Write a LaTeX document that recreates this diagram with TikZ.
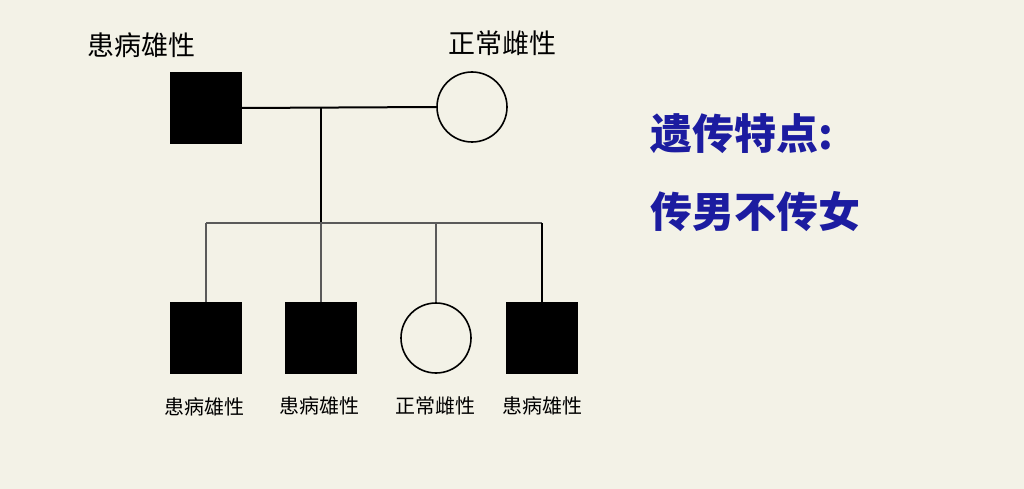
\documentclass[tikz,border=0pt]{standalone}
\usepackage{fontspec}
\newfontfamily\cjk{Noto Sans CJK SC}
\usepackage{tikz}
\usetikzlibrary{positioning}
\definecolor{paper}{RGB}{243,242,231}
\definecolor{lineg}{RGB}{90,90,90}
\definecolor{tipblue}{RGB}{28,28,160}
\tikzset{
	male/.style={shape=rectangle, fill=black, draw=black, minimum size=71pt, inner sep=0pt},
	female/.style={shape=circle, draw=black, line width=1.6pt, fill=paper, minimum size=70pt, inner sep=0pt},
	kin/.style={line width=1.6pt, draw=lineg},
	tag/.style={font=\cjk\fontsize{20}{22}\selectfont, inner sep=0pt},
}
\begin{document}
\begin{tikzpicture}[x=1pt, y=-1pt]
	\fill[paper] (0,0) rectangle (1024,489);
	\useasboundingbox (0,0) rectangle (1024,489);
	% Parents:
	\node[male](P1) at (206,108){};
	\node[female](P2) at (472,107){};
	\node[tag, font=\cjk\fontsize{27}{29}\selectfont](L1) at (141,45){患病雄性};
	\node[tag, font=\cjk\fontsize{27}{29}\selectfont](L2) at (502,43){正常雌性};
	\coordinate (M) at (321,108);
	\coordinate (S) at (321,223);
	\draw[line width=2pt] (P1.east) -- (P2.west);
	\draw[line width=1.6pt] (M) -- (S);
	% Children:
	\node[male](C1) at (206,338){};
	\node[male](C2) at (321,338){};
	\node[female](C3) at (436,338){};
	\node[male](C4) at (542,338){};
	\draw[kin] (C1 |- S) -- (C4 |- S);
	\draw[kin] (C1 |- S) -- (C1.north);
	\draw[kin] (C2 |- S) -- (C2.north);
	\draw[kin] (C3 |- S) -- (C3.north);
	\draw[kin, draw=black] (C4 |- S) -- (C4.north);
	\node[tag](T1) at (204,407){患病雄性};
	\node[tag](T2) at (319,406){患病雄性};
	\node[tag](T3) at (435,406){正常雌性};
	\node[tag](T4) at (542,406){患病雄性};
	% Note:
	\node[anchor=west, inner sep=0pt, text=tipblue, font=\cjk\bfseries\fontsize{42}{44}\selectfont](N1) at (650,134){遗传特点:};
	\node[anchor=west, inner sep=0pt, text=tipblue, font=\cjk\bfseries\fontsize{42}{44}\selectfont](N2) at (650,212){传男不传女};
\end{tikzpicture}
\end{document}
